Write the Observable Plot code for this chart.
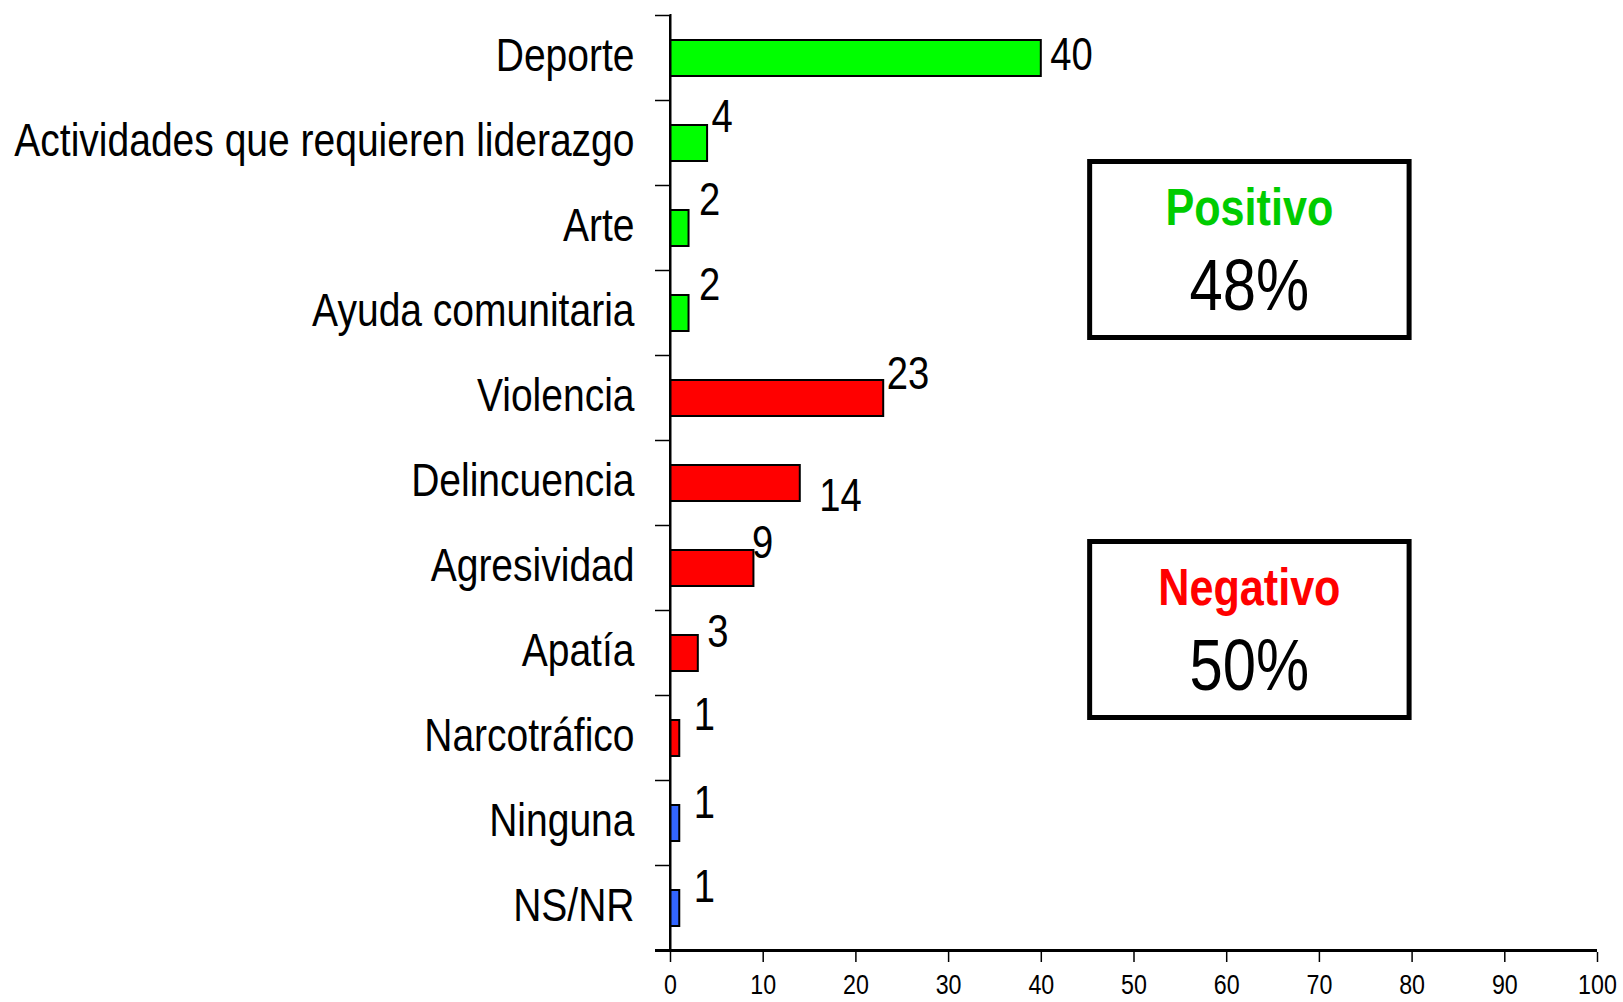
<!DOCTYPE html>
<html>
<head>
<meta charset="utf-8">
<script src="https://cdn.jsdelivr.net/npm/d3@7"></script>
<script src="https://cdn.jsdelivr.net/npm/@observablehq/plot@0.6"></script>
<style>
  html, body { margin: 0; padding: 0; background: #fff; }
  #chart { width: 1623px; height: 1002px; overflow: hidden; }
</style>
</head>
<body>
<div id="chart"></div>
<script>
// ---- data ----
const categories = ["Deporte", "Actividades que requieren liderazgo", "Arte", "Ayuda comunitaria",
  "Violencia", "Delincuencia", "Agresividad", "Apatía", "Narcotráfico", "Ninguna", "NS/NR"];
const values = [40, 4, 2, 2, 23, 14, 9, 3, 1, 1, 1];
const groups = ["pos", "pos", "pos", "pos", "neg", "neg", "neg", "neg", "neg", "none", "none"];
const xTicks = [0, 10, 20, 30, 40, 50, 60, 70, 80, 90, 100];
const summaryLabels = ["Positivo", "Negativo"];
const summaryValues = ["48%", "50%"];

// ---- style / layout (not data) ----
const groupColors = { pos: "#00ff00", neg: "#ff0000", none: "#3366ff" };
const summaryColors = ["#00cc00", "#ff0000"];
const labelShift = [[9, -3], [4, -26], [10, -28], [10, -28], [3, -24], [19, 13], [-2, -25], [9, -21], [14, -23], [14, -20], [14, -21]];
const FONT = "'Liberation Sans', Arial, sans-serif";
const SX = 0.83; // horizontal condensing to mimic a narrow face

const data = categories.map((c, i) => ({ category: c, value: values[i], group: groups[i], i }));

const textMarks = data.map(d => Plot.text([d], {
  x: "value", y: "category", text: d => String(d.value),
  textAnchor: "start", dx: labelShift[d.i][0], dy: labelShift[d.i][1],
  fontSize: 46, fill: "black"
}));

const chart = Plot.plot({
  width: 1623,
  height: 1002,
  marginLeft: 670,
  marginRight: 26,
  marginTop: 14,
  marginBottom: 50,
  style: { fontFamily: FONT, background: "white", color: "black", overflow: "visible" },
  x: { domain: [0, 100] },
  y: { domain: categories, paddingInner: 0.58, paddingOuter: 0.29 },
  marks: [
    Plot.axisX({ ticks: xTicks, tickSize: 10, tickPadding: 12, fontSize: 28, tickFormat: d => String(d), label: null, strokeWidth: 1.5 }),
    Plot.axisY({ tickSize: 0, tickPadding: 36, fontSize: 47, dy: -3, label: null }),
    Plot.barX(data, { x: "value", y: "category", fill: d => groupColors[d.group], stroke: "black", strokeWidth: 2 }),
    Plot.ruleX([0], { strokeWidth: 2 }),
    ...textMarks
  ]
});

document.getElementById("chart").appendChild(chart);

const svg = d3.select(chart);

// condense Plot's texts horizontally around their anchor point
svg.selectAll("text").each(function() {
  const s = d3.select(this);
  const t = s.attr("transform") || "";
  s.attr("transform", `${t} scale(${SX},1)`);
});

// y-axis boundary ticks and extended x-axis line
const xs = chart.scale("x");
const ys = chart.scale("y");
const step = ys.step, bw = ys.bandwidth;
const x0 = xs.apply(0);
const yTop = ys.apply(categories[0]) - (step - bw) / 2;
const g = svg.append("g");
for (let k = 0; k <= categories.length; k++) {
  const yy = yTop + k * step;
  g.append("line").attr("x1", x0 - 15).attr("x2", x0).attr("y1", yy).attr("y2", yy)
    .attr("stroke", "black").attr("stroke-width", 1.5);
}
const yBottom = yTop + categories.length * step;
g.append("line").attr("x1", x0 - 15).attr("x2", xs.apply(100)).attr("y1", yBottom).attr("y2", yBottom)
  .attr("stroke", "black").attr("stroke-width", 3);
g.append("line").attr("x1", x0).attr("x2", x0).attr("y1", yTop).attr("y2", yBottom)
  .attr("stroke", "black").attr("stroke-width", 2);

// summary boxes
const boxX1 = xs.apply(45), boxX2 = xs.apply(80);
const boxTops = [159, 539];
const boxH = 181;
summaryLabels.forEach((lab, i) => {
  const bx = boxX1 + 2.5, by = boxTops[i] + 2.5;
  g.append("rect").attr("x", bx).attr("y", by).attr("width", boxX2 - boxX1 - 5).attr("height", boxH - 5)
    .attr("fill", "white").attr("stroke", "black").attr("stroke-width", 5);
  const cx = (boxX1 + boxX2) / 2;
  g.append("text").attr("transform", `translate(${cx},${boxTops[i] + 48}) scale(${SX},1)`).attr("dy", "0.35em")
    .attr("text-anchor", "middle").attr("font-family", FONT).attr("font-weight", "bold")
    .attr("font-size", 52).attr("fill", summaryColors[i]).text(lab);
  g.append("text").attr("transform", `translate(${cx},${boxTops[i] + 126}) scale(${SX},1)`).attr("dy", "0.35em")
    .attr("text-anchor", "middle").attr("font-family", FONT)
    .attr("font-size", 72).attr("fill", "black").text(summaryValues[i]);
});
</script>
</body>
</html>
